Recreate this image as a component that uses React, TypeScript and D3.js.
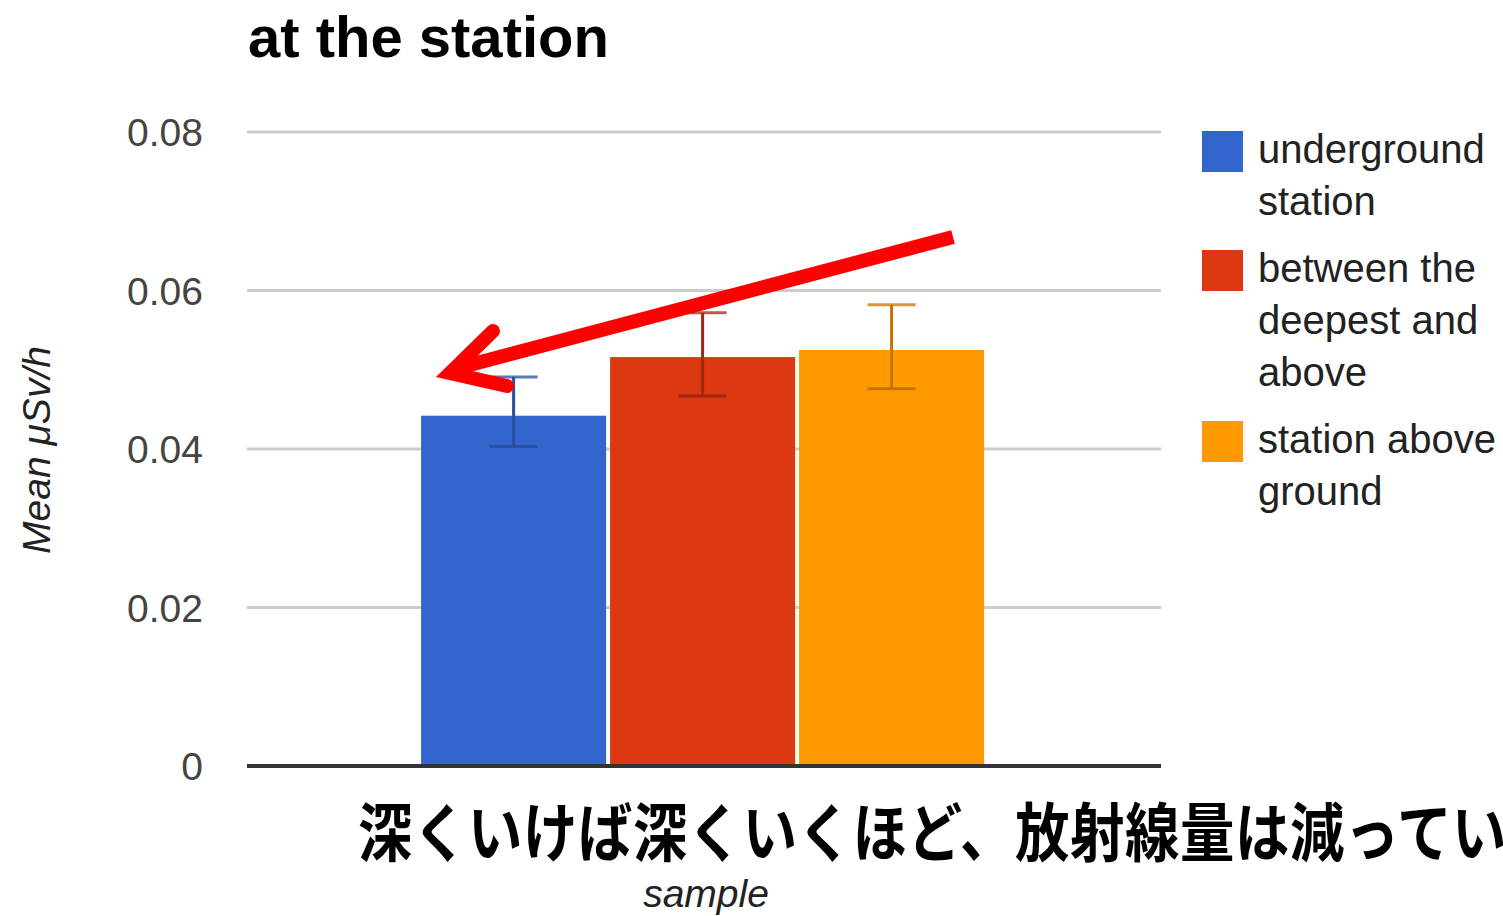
import React from "react";
import * as d3 from "d3";

// ---- data ----
const categories = ["sample"];
const seriesNames = ["underground station", "between the deepest and above", "station above ground"];
const legendLines = [["underground", "station"], ["between the", "deepest and", "above"], ["station above", "ground"]];
const seriesColors = ["#3366cc", "#dc3912", "#ff9900"];
const errorColors = ["#28509e", "#9c2a0f", "#c47500"];
const meanValues = [0.0442, 0.0516, 0.0525];
const errorLow = [0.0403, 0.0467, 0.0476];
const errorHigh = [0.0491, 0.0572, 0.0582];
const yTicks = [0, 0.02, 0.04, 0.06, 0.08];
const yTickLabels = ["0", "0.02", "0.04", "0.06", "0.08"];
const chartTitle = "at the station";
const xTitle = "sample";
const yTitle = "Mean μSv/h";
const annotationText = "深くいけば深くいくほど、放射線量は減ってい";

// annotation arrow (pixel space, hand-drawn overlay)
const arrowShaft = [[953, 237], [458, 368]];
const arrowHead = [[493, 331], [450, 373], [507, 386]];

const W = 1503;
const H = 916;
const plot = { left: 247, right: 1161, top: 132, bottom: 766 };
const FONT = "'Liberation Sans', Arial, sans-serif";

export default function App() {
  const y = d3.scaleLinear().domain([0, 0.08]).range([plot.bottom, plot.top]);
  const x0 = d3
    .scaleBand<string>()
    .domain(categories)
    .range([plot.left, plot.right])
    .paddingInner(0)
    .paddingOuter(0.3117)
    .align(0.496);
  const x1 = d3
    .scaleBand<string>()
    .domain(seriesNames)
    .range([0, x0.bandwidth()])
    .paddingInner(0.021)
    .paddingOuter(0);

  const line = d3.line();
  const capHalf = 24;

  const legendItems: { top: number; lines: string[]; color: string }[] = [];
  let ly = 131;
  legendLines.forEach((lines, i) => {
    legendItems.push({ top: ly, lines, color: seriesColors[i] });
    ly += lines.length * 52 + 15;
  });

  return (
    <svg
      width={W}
      height={H}
      viewBox={`0 0 ${W} ${H}`}
      style={{ position: "absolute", left: 0, top: 0, background: "#fff" }}
    >
      <rect x={0} y={0} width={W} height={H} fill="#fff" />
      {/* title */}
      <text x={248} y={57} fontFamily={FONT} fontWeight="bold" fontSize={58} fill="#000">
        {chartTitle}
      </text>

      {/* gridlines */}
      {yTicks.map((t) =>
        t === 0 ? null : (
          <line key={t} x1={plot.left} x2={plot.right} y1={y(t)} y2={y(t)} stroke="#cccccc" strokeWidth={3} />
        )
      )}

      {/* tick labels */}
      {yTicks.map((t, i) => (
        <text
          key={"l" + t}
          x={203}
          y={y(t) + 14}
          textAnchor="end"
          fontFamily={FONT}
          fontSize={39}
          fill="#444"
        >
          {yTickLabels[i]}
        </text>
      ))}

      {/* bars */}
      {categories.map((c) =>
        seriesNames.map((s, i) => {
          const bx = (x0(c) as number) + (x1(s) as number);
          return (
            <rect
              key={c + s}
              x={bx}
              y={y(meanValues[i])}
              width={x1.bandwidth()}
              height={y(0) - y(meanValues[i])}
              fill={seriesColors[i]}
            />
          );
        })
      )}

      {/* error bars */}
      {categories.map((c) =>
        seriesNames.map((s, i) => {
          const cx = (x0(c) as number) + (x1(s) as number) + x1.bandwidth() / 2;
          const col = errorColors[i];
          return (
            <g key={"e" + c + s} stroke={col} strokeWidth={3}>
              <line x1={cx} x2={cx} y1={y(errorHigh[i])} y2={y(errorLow[i])} />
              <line x1={cx - capHalf} x2={cx + capHalf} y1={y(errorHigh[i])} y2={y(errorHigh[i])} opacity={0.75} />
              <line x1={cx - capHalf} x2={cx + capHalf} y1={y(errorLow[i])} y2={y(errorLow[i])} />
            </g>
          );
        })
      )}

      {/* baseline */}
      <line x1={plot.left} x2={plot.right} y1={y(0)} y2={y(0)} stroke="#333333" strokeWidth={4} />

      {/* axis titles */}
      <text
        transform={`translate(50,450) rotate(-90)`}
        textAnchor="middle"
        fontFamily={FONT}
        fontStyle="italic"
        fontSize={39}
        fill="#222"
      >
        {yTitle}
      </text>
      <text x={706} y={907} textAnchor="middle" fontFamily={FONT} fontStyle="italic" fontSize={39} fill="#222">
        {xTitle}
      </text>

      {/* legend */}
      {legendItems.map((it, i) => (
        <g key={"lg" + i}>
          <rect x={1202} y={it.top} width={41} height={41} fill={it.color} />
          {it.lines.map((ln, j) => (
            <text key={j} x={1258} y={it.top + 32 + j * 52} fontFamily={FONT} fontSize={40} fill="#222">
              {ln}
            </text>
          ))}
        </g>
      ))}

      {/* annotation arrow */}
      <path
        d={line(arrowShaft as [number, number][]) || ""}
        fill="none"
        stroke="#ff0000"
        strokeWidth={14}
        strokeLinecap="butt"
      />
      <path
        d={line(arrowHead as [number, number][]) || ""}
        fill="none"
        stroke="#ff0000"
        strokeWidth={14}
        strokeLinecap="round"
        strokeLinejoin="miter"
        strokeMiterlimit={10}
      />

      {/* annotation text */}
      <text
        transform="translate(358,856) scale(0.85,1)"
        fontFamily="'Noto Sans CJK JP', sans-serif"
        fontWeight="bold"
        fontSize={64}
        letterSpacing={0.7}
        fill="#000"
      >
        {annotationText}
      </text>
    </svg>
  );
}
